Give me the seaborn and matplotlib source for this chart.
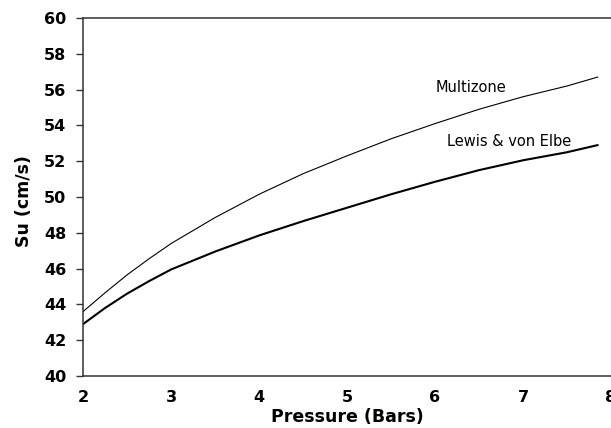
import matplotlib
matplotlib.use("Agg")
import matplotlib.pyplot as plt
import seaborn as sns
import pandas as pd

pressure = [2.0, 2.25, 2.5, 2.75, 3.0, 3.5, 4.0, 4.5, 5.0, 5.5, 6.0, 6.5, 7.0, 7.5, 7.85]
multizone = [43.6, 44.65, 45.65, 46.55, 47.4, 48.85, 50.15, 51.3, 52.3, 53.25, 54.1, 54.9, 55.6, 56.2, 56.7]
lewis = [42.9, 43.8, 44.6, 45.3, 45.95, 46.95, 47.85, 48.65, 49.4, 50.15, 50.85, 51.5, 52.05, 52.5, 52.9]
yticks = [40, 42, 44, 46, 48, 50, 52, 54, 56, 58, 60]
xticks = [2, 3, 4, 5, 6, 7, 8]

sns.set_theme(style="white")
plt.rcParams['font.family'] = ['DejaVu Sans']

df = pd.DataFrame({"Pressure": pressure * 2,
                   "Su": multizone + lewis,
                   "Series": ["Multizone"] * len(pressure) + ["Lewis & von Elbe"] * len(pressure)})

fig = plt.figure(figsize=(6.11, 4.28), dpi=100)
ax = fig.add_axes([0.136, 0.1215, 0.864, 0.8365])
sns.lineplot(data=df, x="Pressure", y="Su", hue="Series", size="Series",
             palette={"Multizone": "black", "Lewis & von Elbe": "black"},
             sizes={"Multizone": 0.8, "Lewis & von Elbe": 1.5},
             legend=False, ax=ax)
ax.set_xlim(2, 8)
ax.set_ylim(40, 60)
ax.set_xticks(xticks)
ax.set_yticks(yticks)
ax.tick_params(axis='y', direction='out', length=5, width=1.0, color='#333333', left=True, pad=7)
ax.tick_params(axis='x', length=0, pad=10)
for lbl in ax.get_xticklabels() + ax.get_yticklabels():
    lbl.set_fontweight('bold')
    lbl.set_fontsize(11.5)
    lbl.set_color('black')
ax.set_xlabel("Pressure (Bars)", fontsize=12.5, fontweight='bold', color='black')
ax.xaxis.set_label_coords(0.5, -0.09)
ax.set_ylabel("Su (cm/s)", fontsize=12.5, fontweight='bold', color='black')
ax.yaxis.set_label_coords(-0.095, 0.49)
for s in ['left', 'bottom', 'top']:
    ax.spines[s].set_color('#333333')
    ax.spines[s].set_linewidth(1.1)
ax.spines['right'].set_visible(False)
ax.text(6.01, 55.85, "Multizone", fontsize=10.5, color='black')
ax.text(6.14, 52.85, "Lewis & von Elbe", fontsize=10.5, color='black')
fig.savefig("out.png", dpi=100)
